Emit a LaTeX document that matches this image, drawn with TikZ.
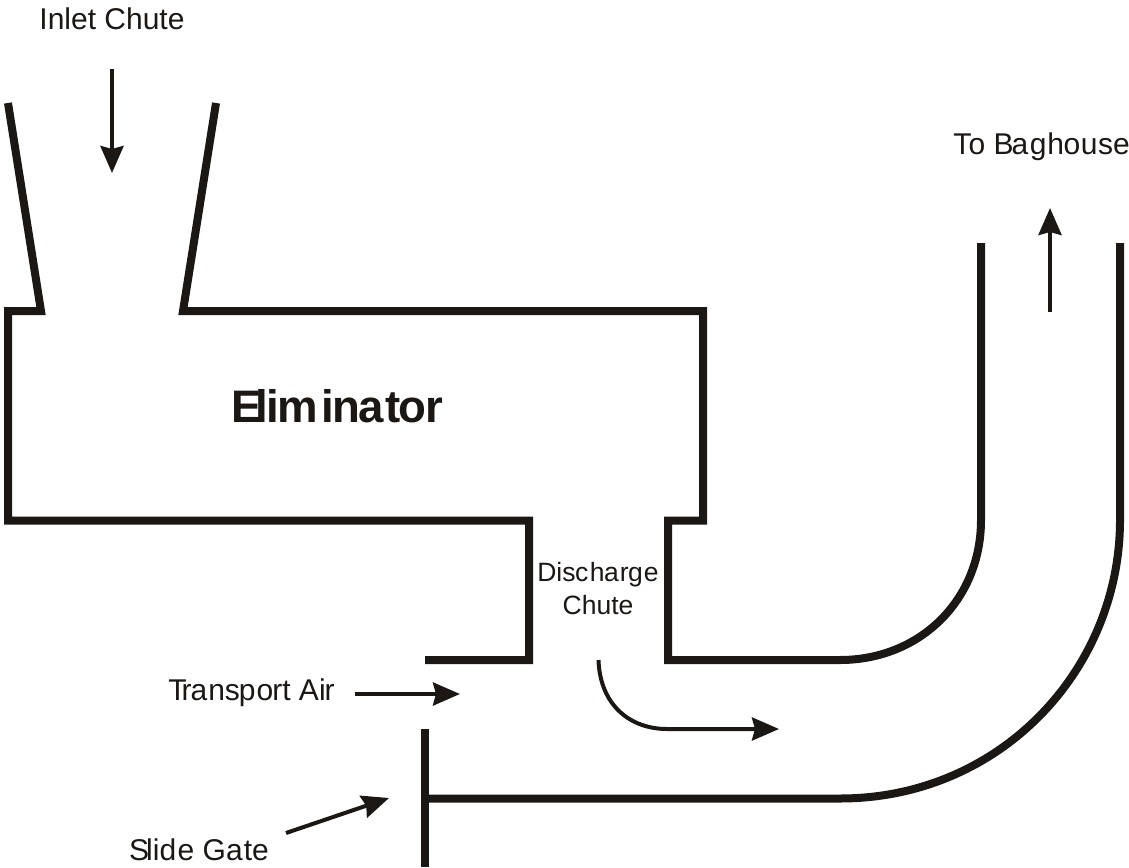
\documentclass[tikz,border=0pt]{standalone}
\usepackage{fontspec}
\setmainfont{Liberation Sans}
\usetikzlibrary{arrows.meta}
\definecolor{ink}{HTML}{1A1715}
\tikzset{
  wall/.style={line width=8pt,line cap=butt,line join=miter,ink},
  flow/.style={line width=4pt,ink,-{Stealth[length=27pt,width=23pt,inset=3pt]}},
  lbl/.style={inner sep=0pt,anchor=base,font=\fontsize{30}{34}\selectfont,text=ink},
}
\begin{document}
\begin{tikzpicture}[x=1pt,y=-1pt]
\useasboundingbox (0,0) rectangle (1129,867);
% labels
\node[lbl] (inlet) at (112,30) {Inlet Chute};
\node[lbl] (bag) at (1041.5,154) {T\kern-3pt o B\kern-2pt a\kern1.5pt g\kern1pt h\kern-.5pt o\kern.5pt u\kern.5pt se};
\node[lbl,font=\bfseries\fontsize{45.6}{50}\selectfont] (elim) at (337.5,422) {E\kern-7pt l\kern-1.5pt i\kern-1.5pt m\kern3pt i\kern-1pt n\kern-2.5pt a\kern2pt t\kern-2pt o\kern-1pt r};
\node[lbl,align=center,font=\fontsize{26.5}{33}\selectfont] (dis) at (598,581) {Dis\kern-.5pt c\kern1.5pt h\kern-.5pt a\kern1pt r\kern-.5pt g\kern1pt e};
\node[lbl,font=\fontsize{26.5}{33}\selectfont] (chute) at (598,614) {Chute};
\node[lbl] (air) at (251.5,700) {T\kern-5pt r\kern-1pt a\kern1pt ns\kern-1pt p\kern1pt o\kern-1pt rt Ai\kern-1pt r};
\node[lbl] (gate) at (199,860) {S\kern-3pt lid\kern1.5pt e Ga\kern1pt te};
% walls
\draw[wall] (8,103) -- (41,311) -- (8,311) -- (8,520.5) -- (529,520.5) -- (529,660) -- (425,660);
\draw[wall] (216,103) -- (183,311) -- (703,311) -- (703,520.5) -- (668,520.5) -- (668,660) -- (840,660)
  .. controls (920,660) and (981,600) .. (981,520) -- (981,243);
\draw[wall] (425,729) -- (425,867);
\draw[wall] (425,798.5) -- (840,798.5) .. controls (1000,798.5) and (1120,670) .. (1120,520) -- (1120,243);
% arrows
\coordinate (a1) at (112,69); \coordinate (a2) at (112,173);
\draw[flow] (a1) -- (a2);
\coordinate (b1) at (1050,312); \coordinate (b2) at (1050,208);
\draw[flow] (b1) -- (b2);
\coordinate (c1) at (355,694); \coordinate (c2) at (460,694);
\draw[flow] (c1) -- (c2);
\coordinate (d1) at (286,833); \coordinate (d2) at (389,798);
\draw[flow] (d1) -- (d2);
\coordinate (e1) at (598.5,660); \coordinate (e2) at (779,729);
\draw[flow] (e1) .. controls (600,705) and (630,729) .. (667,729) -- (e2);
\end{tikzpicture}
\end{document}
